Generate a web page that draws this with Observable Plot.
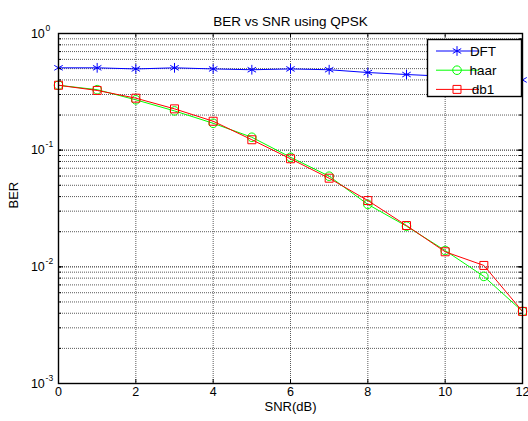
<!DOCTYPE html>
<html>
<head>
<meta charset="utf-8">
<script src="https://cdn.jsdelivr.net/npm/d3@7"></script>
<script src="https://cdn.jsdelivr.net/npm/@observablehq/plot@0.6"></script>
<style>
  html, body { margin: 0; padding: 0; background: white; }
  #chart { width: 528px; height: 421px; }
</style>
</head>
<body>
<div id="chart"></div>
<script>
// ---- data ----
const snr = [0, 1, 2, 3, 4, 5, 6, 7, 8, 9, 10, 11, 12];
const dft = [0.508, 0.508, 0.497, 0.508, 0.497, 0.489, 0.497, 0.489, 0.463, 0.445, 0.43, 0.415, 0.40];
const haar = [0.36, 0.33, 0.27, 0.217, 0.170, 0.129, 0.087, 0.0598, 0.0343, 0.0223, 0.0138, 0.00828, 0.00415];
const db1 = [0.36, 0.325, 0.279, 0.226, 0.177, 0.1228, 0.0844, 0.0575, 0.037, 0.0226, 0.01346, 0.01028, 0.00415];
const seriesNames = ["DFT", "haar", "db1"];
const xTicks = [0, 2, 4, 6, 8, 10, 12];
const yMajor = [1e-3, 1e-2, 1e-1, 1];
const titleText = "BER vs SNR using QPSK";
const xLabel = "SNR(dB)";
const yLabel = "BER";

// ---- layout ----
const W = 528, H = 421;
const mL = 58, mR = 6, mT = 33, mB = 38;
const fw = W - mL - mR, fh = H - mT - mB;
const font = "'Liberation Sans', Arial, Helvetica, sans-serif";

const colors = {DFT: "#0000ff", haar: "#00ff00", db1: "#ff0000"};
const symbols = {DFT: "asterisk", haar: "circle", db1: "square"};
const radii = {DFT: 4.6, haar: 4.3, db1: 4.5};

const rows = [];
const valuesBy = {DFT: dft, haar: haar, db1: db1};
for (const s of seriesNames) snr.forEach((x, i) => rows.push({series: s, x, y: valuesBy[s][i]}));

const yMinor = [];
for (let e = -3; e < 0; e++) for (let m = 1; m <= 10; m++) yMinor.push(m * Math.pow(10, e));

const gridStyle = {stroke: "#5a5a5a", strokeOpacity: 1, strokeDasharray: "1,1", strokeWidth: 1};

const marks = [
  Plot.ruleY(yMinor, {y: d => d, ...gridStyle}),
  Plot.ruleX(xTicks, {x: d => d, ...gridStyle}),
];
for (const s of seriesNames) {
  const data = rows.filter(r => r.series === s);
  marks.push(Plot.line(data, {x: "x", y: "y", stroke: colors[s], strokeWidth: 1}));
  marks.push(Plot.dot(data, {x: "x", y: "y", stroke: colors[s], symbol: symbols[s], r: radii[s], fill: "none", strokeWidth: 1}));
}
marks.push(
  Plot.frame({stroke: "black", strokeWidth: 1.4}),
  // inward ticks
  Plot.tickX(xTicks, {x: d => d, insetTop: fh - 4, stroke: "black"}),
  Plot.tickX(xTicks, {x: d => d, insetBottom: fh - 4, stroke: "black"}),
  Plot.tickY(yMinor, {y: d => d, insetRight: fw - 3, stroke: "black"}),
  Plot.tickY(yMinor, {y: d => d, insetLeft: fw - 3, stroke: "black"}),
  Plot.tickY(yMajor, {y: d => d, insetRight: fw - 5, stroke: "black"}),
  Plot.tickY(yMajor, {y: d => d, insetLeft: fw - 5, stroke: "black"}),
  // tick labels
  Plot.text(xTicks, {x: d => d, frameAnchor: "bottom", dy: 12, text: d => String(d), fontSize: 12.5, fill: "black"}),
  Plot.text(yMajor, {y: d => d, frameAnchor: "left", dx: -13.7, textAnchor: "end", text: () => "10", fontSize: 12.5, fill: "black"}),
  Plot.text(yMajor, {y: d => d, frameAnchor: "left", dx: -12.9, dy: -5.5, textAnchor: "start", text: d => String(Math.round(Math.log10(d))), fontSize: 8.5, fill: "black"}),
  // labels
  Plot.text([titleText], {frameAnchor: "top", dy: -17.5, text: d => d, fontSize: 13.5, fill: "black"}),
  Plot.text([xLabel], {frameAnchor: "bottom", dy: 27.5, text: d => d, fontSize: 13, fill: "black"}),
  Plot.text([yLabel], {frameAnchor: "left", dx: -45, rotate: -90, text: d => d, fontSize: 13, fill: "black"})
);

const chart = Plot.plot({
  width: W, height: H,
  marginLeft: mL, marginRight: mR, marginTop: mT, marginBottom: mB,
  x: {domain: [0, 12], axis: null},
  y: {type: "log", domain: [1e-3, 1], axis: null},
  style: {fontFamily: font, background: "white", overflow: "visible"},
  marks
});
document.getElementById("chart").appendChild(chart);

// ---- legend (inside the axes, top-right) ----
const svg = d3.select(chart);
const lx = 427, ly = 39, lw = 95, lh = 58;
const lg = svg.append("g").attr("transform", `translate(${lx},${ly})`).attr("font-family", font);
lg.append("rect").attr("x", 0.5).attr("y", 0.5).attr("width", lw - 1).attr("height", lh - 1)
  .attr("fill", "white").attr("stroke", "black").attr("stroke-width", 1.4);
const symMap = {asterisk: d3.symbolAsterisk, circle: d3.symbolCircle, square: d3.symbolSquare};
seriesNames.forEach((s, i) => {
  const cy = 12 + i * 19.2;
  lg.append("line").attr("x1", 9).attr("x2", 52).attr("y1", cy).attr("y2", cy)
    .attr("stroke", colors[s]).attr("stroke-width", 1);
  lg.append("path").attr("transform", `translate(30,${cy})`)
    .attr("d", d3.symbol(symMap[symbols[s]], Math.PI * radii[s] * radii[s])())
    .attr("fill", "none").attr("stroke", colors[s]).attr("stroke-width", 1);
  lg.append("text").attr("x", 56).attr("y", cy).attr("dy", "0.35em")
    .attr("font-size", 13.5).attr("fill", "black").text(s);
});
</script>
</body>
</html>
